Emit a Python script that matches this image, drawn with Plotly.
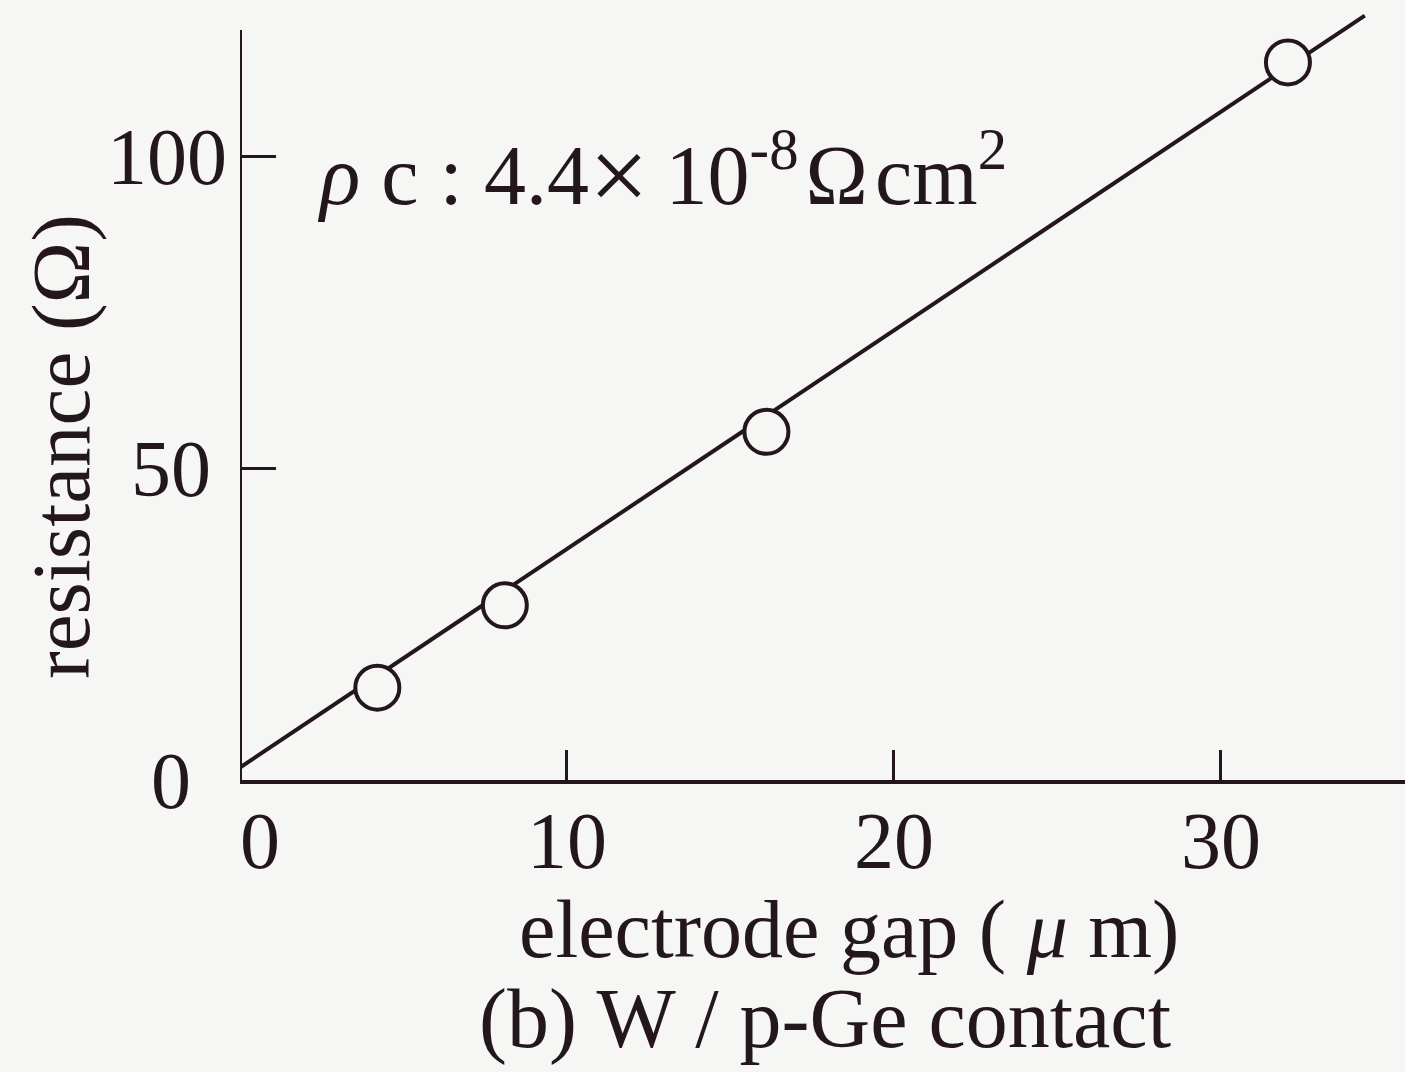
import plotly.graph_objects as go

# measured contact resistance vs. electrode gap (TLM pattern)
gap_um = [4.2, 8.1, 16.1, 32.05]
resistance_ohm = [14.8, 28.0, 55.8, 115.0]

# least-squares line drawn through the measurements
fit_gap = [0.0, 34.4]
fit_res = [2.0, 122.5]

x_ticks = [0, 10, 20, 30]
y_ticks = [0, 50, 100]
NBSP = "\u00a0"
THIN = "\u2009"
HAIR = "\u200a"
x_ticktext = [NBSP * 2 + "0", "10", "20", "30"]
y_ticktext = ["0" + NBSP + THIN, "50" + THIN, "100"]

INK = "#24161d"
PAPER = "#f6f6f4"
FONT = "Liberation Serif"

fig = go.Figure()

fig.add_trace(go.Scatter(
    x=fit_gap, y=fit_res, mode="lines",
    line=dict(color=INK, width=4),
    hoverinfo="skip", showlegend=False,
))

fig.add_trace(go.Scatter(
    x=gap_um, y=resistance_ohm, mode="markers",
    marker=dict(symbol="circle", size=44, color=PAPER,
                line=dict(color=INK, width=4)),
    showlegend=False, cliponaxis=False,
))

# vertical axis line stops short of the plot top
fig.add_shape(type="line", xref="x", yref="y", x0=0, x1=0, y0=0, y1=120.2,
              line=dict(color=INK, width=4))

rho_c_label = ("<i>ρ</i> c : 4.4<span style='font-size:106px;baseline-shift:-7px'>×</span>" + THIN +
               "10<sup>-8</sup>" + HAIR + "Ω" + HAIR + "cm<sup>2</sup>")

fig.update_layout(
    width=1405, height=1072,
    margin=dict(l=240, r=0, t=0, b=292),
    paper_bgcolor=PAPER, plot_bgcolor=PAPER,
    font=dict(family=FONT, color=INK, size=80),
    xaxis=dict(
        range=[0, 35.63], tickvals=x_ticks, ticktext=x_ticktext,
        ticks="inside", ticklen=30, tickwidth=3, tickcolor=INK,
        showline=True, linecolor=INK, linewidth=4,
        showgrid=False, zeroline=False,
        tickfont=dict(family=FONT, size=80, color=INK),
        ticklabelstandoff=-12,
    ),
    yaxis=dict(
        range=[0, 125], tickvals=y_ticks, ticktext=y_ticktext,
        ticks="inside", ticklen=36, tickwidth=3, tickcolor=INK,
        showline=False, showgrid=False, zeroline=False,
        tickfont=dict(family=FONT, size=80, color=INK),
        ticklabelstandoff=12,
    ),
    annotations=[
        dict(text=rho_c_label,
             xref="x", yref="y", x=2.3, y=96.8, xanchor="left", yanchor="middle",
             showarrow=False, font=dict(family=FONT, size=84, color=INK)),
        dict(text="electrode gap ( <i>μ</i> m)",
             xref="paper", yref="paper", x=(849 - 240) / 1165, y=-(929 - 780) / 780,
             xanchor="center", yanchor="middle", showarrow=False,
             font=dict(family=FONT, size=82, color=INK)),
        dict(text="(b) W / p-Ge contact",
             xref="paper", yref="paper", x=(825 - 240) / 1165, y=-(1019 - 780) / 780,
             xanchor="center", yanchor="middle", showarrow=False,
             font=dict(family=FONT, size=84, color=INK)),
        dict(text="resistance (Ω)", textangle=-90,
             xref="paper", yref="paper", x=-(240 - 61) / 1165, y=(780 - 447) / 780,
             xanchor="center", yanchor="middle", showarrow=False,
             font=dict(family=FONT, size=83, color=INK)),
    ],
)

fig.write_html("out.html")
